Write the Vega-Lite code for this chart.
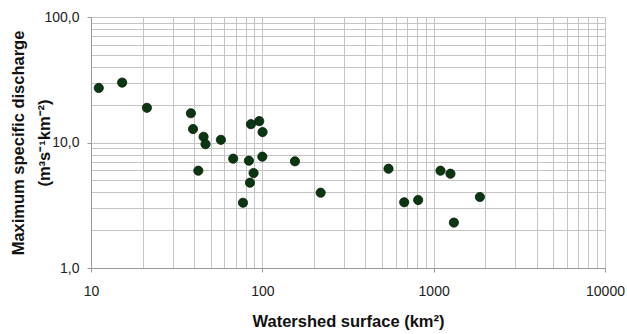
{
  "$schema": "https://vega.github.io/schema/vega-lite/v6.json",
  "autosize": {"type": "none"},
  "width": 514,
  "height": 251,
  "padding": {"left": 91, "top": 17, "right": 22, "bottom": 66},
  "background": "white",
  "config": {
    "view": {"stroke": null},
    "font": "Liberation Sans",
    "axis": {
      "labelFont": "Liberation Sans",
      "titleFont": "Liberation Sans",
      "labelFontSize": 14,
      "labelColor": "#222",
      "titleFontSize": 16.5,
      "titleFontWeight": "bold",
      "titleColor": "#111",
      "gridColor": "#c4c4c4",
      "gridWidth": 1,
      "domainColor": "#999",
      "tickColor": "#999",
      "tickSize": 4
    }
  },
  "data": {
    "values": [
      {"area": 11.1, "q": 27.2},
      {"area": 15.2, "q": 30.0},
      {"area": 21.2, "q": 18.9},
      {"area": 38.3, "q": 17.1},
      {"area": 39.4, "q": 12.8},
      {"area": 45.4, "q": 11.1},
      {"area": 46.6, "q": 9.7},
      {"area": 57.3, "q": 10.5},
      {"area": 42.3, "q": 5.96},
      {"area": 67.6, "q": 7.43},
      {"area": 83.5, "q": 7.16},
      {"area": 85.8, "q": 14.0},
      {"area": 95.9, "q": 14.8},
      {"area": 100.3, "q": 12.1},
      {"area": 100.0, "q": 7.71},
      {"area": 88.9, "q": 5.71},
      {"area": 84.7, "q": 4.78},
      {"area": 77.1, "q": 3.31},
      {"area": 155, "q": 7.08},
      {"area": 219, "q": 3.98},
      {"area": 545, "q": 6.18},
      {"area": 673, "q": 3.34},
      {"area": 812, "q": 3.48},
      {"area": 1096, "q": 5.96},
      {"area": 1253, "q": 5.64},
      {"area": 1312, "q": 2.30},
      {"area": 1861, "q": 3.68}
    ]
  },
  "mark": {"type": "circle", "size": 85, "color": "#0c3511", "opacity": 1, "stroke": "#06200a", "strokeWidth": 0.8},
  "encoding": {
    "x": {
      "field": "area",
      "type": "quantitative",
      "scale": {"type": "log", "domain": [10, 10000], "nice": false},
      "axis": {
        "title": "Watershed surface (km²)",
        "titlePadding": 15,
        "labelPadding": 12,
        "values": [10,20,30,40,50,60,70,80,90,100,200,300,400,500,600,700,800,900,1000,2000,3000,4000,5000,6000,7000,8000,9000,10000],
        "labelExpr": "indexof([10,100,1000,10000], datum.value) >= 0 ? format(datum.value, 'd') : ''",
        "tickOpacity": {"expr": "indexof([10,100,1000,10000], datum.value) >= 0 ? 1 : 0"},
        "labelFlush": false,
        "labelOverlap": false
      }
    },
    "y": {
      "field": "q",
      "type": "quantitative",
      "scale": {"type": "log", "domain": [1, 100], "nice": false},
      "axis": {
        "title": ["Maximum specific discharge", "(m³s⁻¹km⁻²)"],
        "titleLineHeight": 26,
        "titlePadding": -9,
        "labelPadding": 8,
        "values": [1,2,3,4,5,6,7,8,9,10,20,30,40,50,60,70,80,90,100],
        "labelExpr": "indexof([1,10,100], datum.value) >= 0 ? replace(format(datum.value, '.1f'), '.', ',') : ''",
        "tickOpacity": {"expr": "indexof([1,10,100], datum.value) >= 0 ? 1 : 0"},
        "labelFlush": false,
        "labelOverlap": false
      }
    }
  }
}
